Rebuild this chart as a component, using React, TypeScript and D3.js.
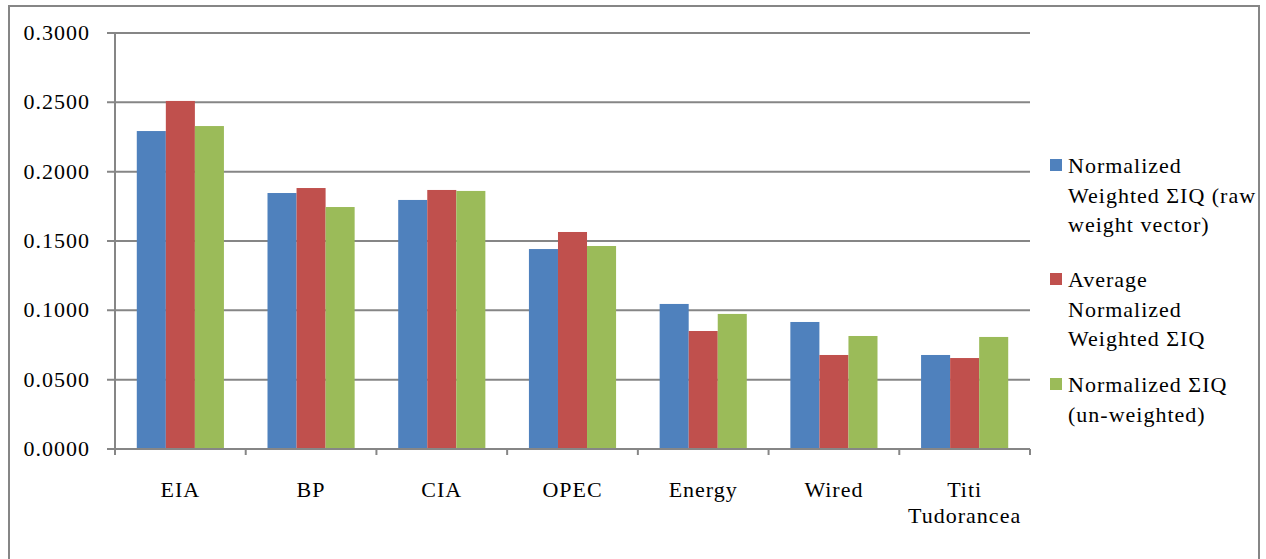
import * as d3 from "d3";

const categories = ["EIA", "BP", "CIA", "OPEC", "Energy", "Wired", "Titi Tudorancea"];
const categoryLines = [["EIA"], ["BP"], ["CIA"], ["OPEC"], ["Energy"], ["Wired"], ["Titi", "Tudorancea"]];

const weightedRaw = [0.2293, 0.1846, 0.1796, 0.1442, 0.1046, 0.0916, 0.0678];
const averageWeighted = [0.251, 0.1882, 0.1868, 0.1565, 0.0851, 0.0678, 0.0656];
const unweighted = [0.2329, 0.1745, 0.1861, 0.1464, 0.0974, 0.0815, 0.0808];

const yTicks = [0, 0.05, 0.1, 0.15, 0.2, 0.25, 0.3];

const seriesNames = [
  ["Normalized", "Weighted ΣIQ (raw", "weight vector)"],
  ["Average", "Normalized", "Weighted ΣIQ"],
  ["Normalized ΣIQ", "(un-weighted)"],
];
const seriesColors = ["#4F81BD", "#C0504D", "#9BBB59"];
const seriesValues = [weightedRaw, averageWeighted, unweighted];

const W = 1266;
const H = 559;
const PLOT = { left: 115, right: 1030, top: 33, bottom: 449 };
const AXIS = "#868686";
const FONT = "'Liberation Serif', 'Times New Roman', serif";

export default function App() {
  const x = d3
    .scaleBand<string>()
    .domain(categories)
    .range([PLOT.left, PLOT.right]);
  const bw = x.bandwidth() / 4.5; // gap width 150%
  const xs = d3
    .scaleBand<number>()
    .domain([0, 1, 2])
    .range([0, bw * 3]);
  const y = d3.scaleLinear().domain([0, 0.3]).range([PLOT.bottom, PLOT.top]);

  const boundaries = categories.map((c) => x(c)!).concat([PLOT.right]);
  const legendTop = [159, 273, 378];

  return (
    <svg
      width={W}
      height={H}
      style={{ position: "absolute", left: 0, top: 0, background: "#fff" }}
      fontFamily={FONT}
    >
      <rect x={9} y={6} width={1250} height={580} fill="#fff" stroke={AXIS} strokeWidth={2} />

      {/* gridlines + y ticks */}
      {yTicks.map((t) => (
        <g key={t}>
          <line
            x1={PLOT.left - 8}
            x2={t === 0 ? PLOT.left : PLOT.right}
            y1={y(t)}
            y2={y(t)}
            stroke={AXIS}
            strokeWidth={2}
          />
          <text
            x={90}
            y={y(t) + 7}
            textAnchor="end"
            fontSize={22}
            letterSpacing={1}
            fill="#000"
          >
            {t.toFixed(4)}
          </text>
        </g>
      ))}

      {/* bars */}
      {categories.map((c, i) => (
        <g key={c} transform={`translate(${x(c)! + (x.bandwidth() - bw * 3) / 2},0)`}>
          {seriesValues.map((vals, s) => (
            <rect
              key={s}
              x={xs(s)}
              y={y(vals[i])}
              width={xs.bandwidth()}
              height={y(0) - y(vals[i])}
              fill={seriesColors[s]}
            />
          ))}
        </g>
      ))}

      {/* axes */}
      <line x1={PLOT.left} x2={PLOT.left} y1={PLOT.top} y2={PLOT.bottom} stroke={AXIS} strokeWidth={2} />
      <line x1={PLOT.left - 8} x2={PLOT.right} y1={PLOT.bottom} y2={PLOT.bottom} stroke={AXIS} strokeWidth={2} />
      {boundaries.map((bx, i) => (
        <line key={i} x1={bx} x2={bx} y1={PLOT.bottom} y2={PLOT.bottom + 6} stroke={AXIS} strokeWidth={2} />
      ))}

      {/* category labels */}
      {categories.map((c, i) => (
        <text
          key={c}
          x={x(c)! + x.bandwidth() / 2}
          y={497}
          textAnchor="middle"
          fontSize={22}
          letterSpacing={1}
          fill="#000"
        >
          {categoryLines[i].map((l, j) => (
            <tspan key={j} x={x(c)! + x.bandwidth() / 2} dy={j === 0 ? 0 : 26}>
              {l}
            </tspan>
          ))}
        </text>
      ))}

      {/* legend */}
      {seriesNames.map((lines, s) => (
        <g key={s}>
          <rect x={1050} y={legendTop[s]} width={12} height={12} fill={seriesColors[s]} />
          <text x={1068} y={legendTop[s] + 14} fontSize={22} letterSpacing={1} fill="#000">
            {lines.map((l, j) => (
              <tspan key={j} x={1068} dy={j === 0 ? 0 : 29.5}>
                {l}
              </tspan>
            ))}
          </text>
        </g>
      ))}
    </svg>
  );
}
